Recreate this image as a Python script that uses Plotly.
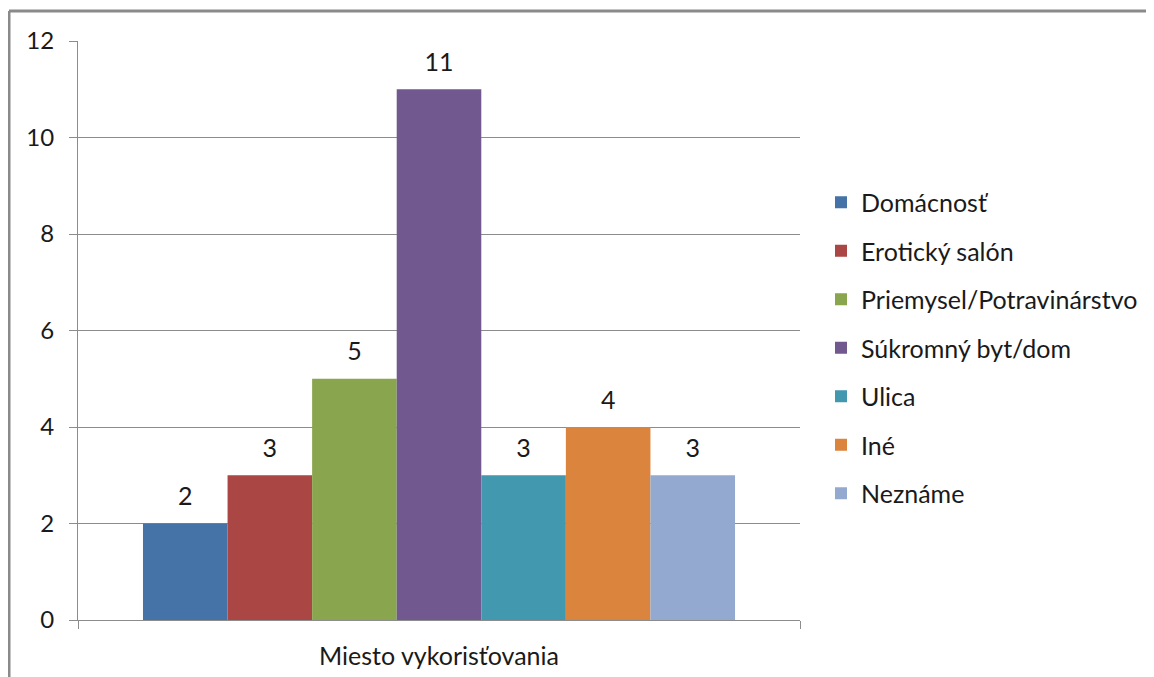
import plotly.graph_objects as go

# data
category = ["Miesto vykorisťovania"]
series_names = [
    "Domácnosť",
    "Erotický salón",
    "Priemysel/Potravinárstvo",
    "Súkromný byt/dom",
    "Ulica",
    "Iné",
    "Neznáme",
]
series_values = [2, 3, 5, 11, 3, 4, 3]
series_colors = ["#4572A7", "#AA4643", "#89A54E", "#71588F", "#4198AF", "#DB843D", "#93A9CF"]
y_ticks = [0, 2, 4, 6, 8, 10, 12]

FONT = "Lato, 'Open Sans', sans-serif"
GRID = "#8c8c8c"
TXT = "#1a1a1a"

# the page body has an 8px margin, so work in screenshot pixels and shift;
# keep the figure full size so nothing pushes the margins
OFF = 8
W, H = 1154, 677
left, right, top, bottom = 78 - OFF, 800 - OFF, 41 - OFF, 620 - OFF
pw, ph = right - left, bottom - top


def px_x(x):
    return (x - OFF - left) / pw


def px_y(y):
    return (bottom - (y - OFF)) / ph


fig = go.Figure()
for i, (name, val, col) in enumerate(zip(series_names, series_values, series_colors)):
    fig.add_trace(go.Bar(
        x=category,
        y=[val],
        name=name,
        marker=dict(color=col, line=dict(width=0)),
        offsetgroup=f"g{i}",
        legendgroup=f"g{i}",
    ))

# value labels, lined up with the bars, lifted a bit higher than bar text allows
for i, val in enumerate(series_values):
    fig.add_trace(go.Scatter(
        x=category,
        y=[val],
        mode="markers+text",
        text=[str(val)],
        textposition="top center",
        textfont=dict(size=25, color=TXT, family=FONT),
        marker=dict(size=18, opacity=0),
        offsetgroup=f"g{i}",
        showlegend=False,
        hoverinfo="skip",
        cliponaxis=False,
    ))

# grey frame on top and left, as in the cropped screenshot
frame = dict(type="line", xref="paper", yref="paper", line=dict(color="#8a8a8a", width=3))
shapes = [
    dict(frame, x0=px_x(9), x1=px_x(9), y0=px_y(690), y1=px_y(11)),
    dict(frame, x0=px_x(9), x1=px_x(1170), y0=px_y(11), y1=px_y(11)),
]

fig.update_layout(
    width=W,
    height=H,
    margin=dict(l=left, r=W - right, t=top, b=H - bottom),
    paper_bgcolor="white",
    plot_bgcolor="white",
    barmode="group",
    bargap=0.18,
    bargroupgap=0,
    scattermode="group",
    scattergap=0.18,
    font=dict(family=FONT, size=25, color=TXT),
    shapes=shapes,
    legend=dict(
        x=px_x(821),
        y=px_y(348),
        xanchor="left",
        yanchor="middle",
        traceorder="grouped",
        tracegroupgap=13,
        itemwidth=30,
        font=dict(size=25, family=FONT, color=TXT),
    ),
    xaxis=dict(
        showline=True,
        linecolor=GRID,
        linewidth=1,
        ticks="outside",
        tickson="boundaries",
        ticklen=8,
        tickcolor=GRID,
        showgrid=False,
        ticklabelstandoff=14,
        tickfont=dict(size=25),
    ),
    yaxis=dict(
        range=[0, 12],
        tickvals=y_ticks,
        showline=True,
        linecolor=GRID,
        linewidth=1,
        ticks="outside",
        ticklen=8,
        tickcolor=GRID,
        showgrid=True,
        gridcolor=GRID,
        gridwidth=1,
        zeroline=False,
        ticklabelstandoff=10,
        tickfont=dict(size=24),
    ),
)

fig.write_html("out.html")
